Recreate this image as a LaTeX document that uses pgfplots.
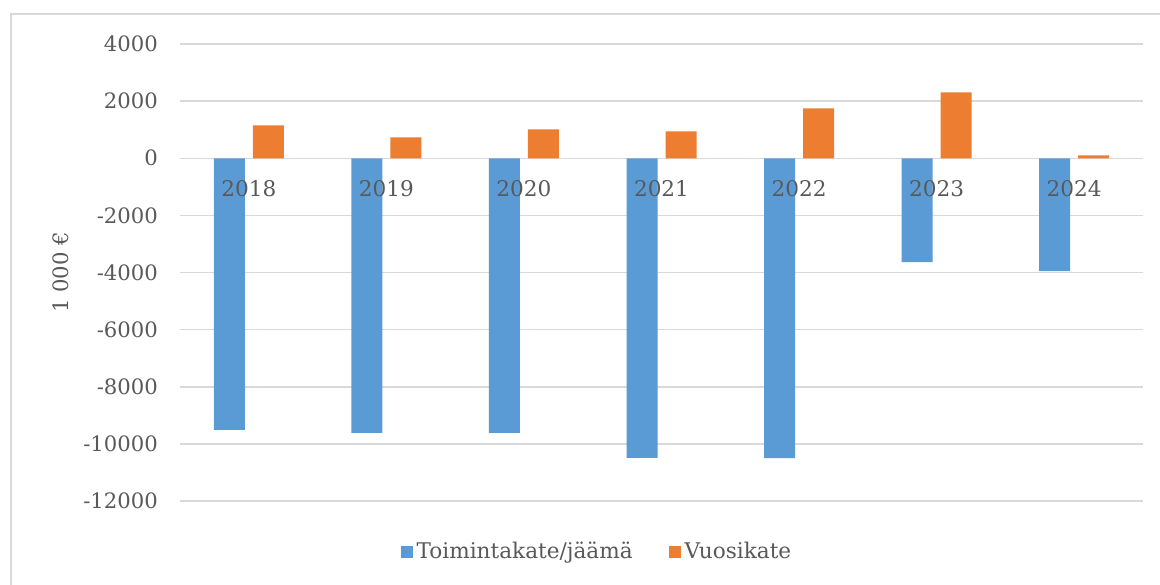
\documentclass[border=0pt]{standalone}
\usepackage{fontspec}
\setmainfont{DejaVu Serif}
\usepackage{pgfplots}
\pgfplotsset{compat=1.18}
\definecolor{barblue}{HTML}{5B9BD5}
\definecolor{barorange}{HTML}{ED7D31}
\definecolor{gridgray}{HTML}{D9D9D9}
\definecolor{txtgray}{HTML}{595959}

\begin{document}
\begin{tikzpicture}
\useasboundingbox (0,0) rectangle (580pt,292pt);
\draw[gridgray, line width=0.6pt] (5.5pt,285pt) rectangle (590pt,-10pt);
\begin{axis}[
  at={(90pt,41.5pt)}, anchor=south west,
  scale only axis,
  width=481.5pt, height=228.5pt,
  xmin=-0.5, xmax=6.5,
  ymin=-12000, ymax=4000,
  xtick=\empty,
  ytick={-12000,-10000,...,4000},
  scaled y ticks=false,
  axis x line*=bottom, axis y line*=left,
  x axis line style={draw=none},
  y axis line style={draw=none},
  major tick length=0,
  ymajorgrids, grid style={draw=gridgray, line width=0.75pt},
  font=\fontsize{10.6}{12}\selectfont,
  tick label style={text=txtgray},
  y tick label style={anchor=east, xshift=-7.5pt},
  /pgf/number format/assume math mode=true,
  /pgf/number format/set thousands separator={},
  ylabel={1 000 €}, ylabel style={text=txtgray, at={(rel axis cs:0,0.5)}, anchor=south, yshift=52pt},
  legend style={draw=none, at={(0.434,-0.112)}, anchor=center, legend columns=-1,
    text=txtgray, /tikz/every even column/.append style={column sep=16pt},
    font=\fontsize{10.8}{12}\selectfont},
  legend image code/.code={\fill[#1] (0pt,-3pt) rectangle (6pt,3pt);},
  clip=false,
]
\addplot[ybar, bar width=15.5pt, bar shift=-9.75pt, fill=barblue, draw=none] coordinates {
  (0,-9510) (1,-9615) (2,-9615) (3,-10490) (4,-10500) (5,-3640) (6,-3950)
};
\addplot[ybar, bar width=15.5pt, bar shift=9.75pt, fill=barorange, draw=none] coordinates {
  (0,1150) (1,735) (2,1015) (3,945) (4,1750) (5,2310) (6,105)
};
% year labels sit on the zero line, over the bars
\addplot[draw=none, forget plot, point meta=explicit symbolic,
  nodes near coords, nodes near coords align={center},
  every node near coord/.append style={text=txtgray, anchor=center, yshift=-15pt,
    font=\fontsize{10.8}{12}\selectfont}] coordinates {
  (0,0) [2018] (1,0) [2019] (2,0) [2020] (3,0) [2021] (4,0) [2022] (5,0) [2023] (6,0) [2024]
};
\legend{Toimintakate/jäämä, Vuosikate}
\end{axis}
\end{tikzpicture}
\end{document}
